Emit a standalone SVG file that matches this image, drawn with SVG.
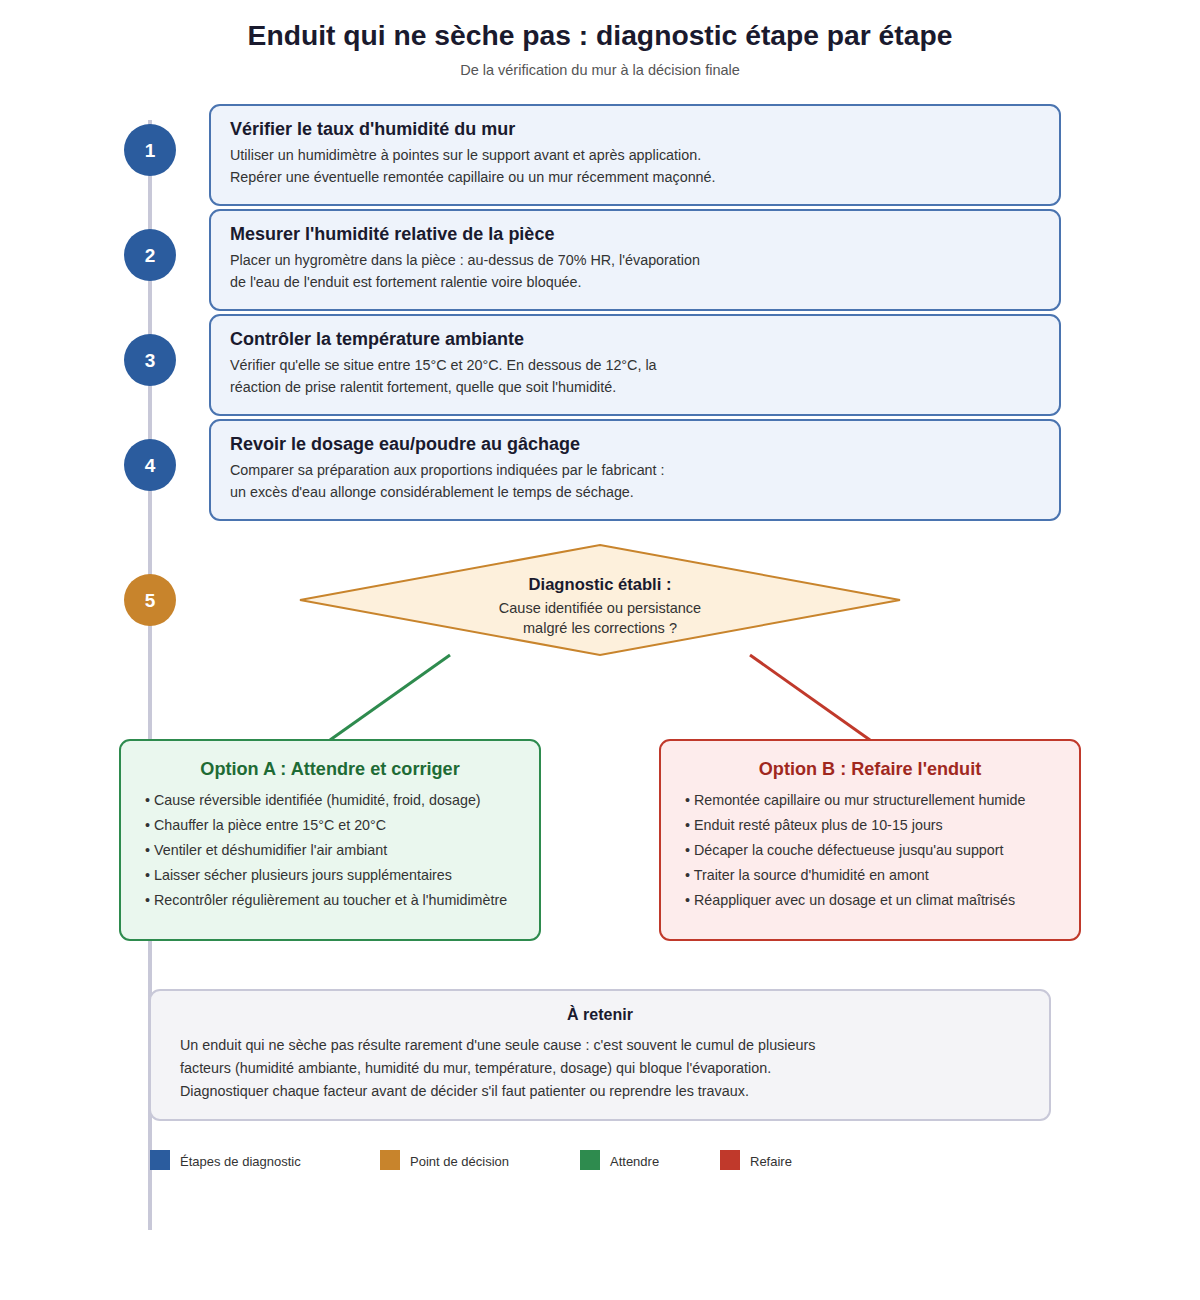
<svg xmlns="http://www.w3.org/2000/svg" width="1200" height="1300" viewBox="0 0 1200 1300">
<style>
text{font-family:"Liberation Sans",Arial,sans-serif;}
.title{font-size:28.25px;font-weight:bold;fill:#1a1a2e;text-anchor:middle;}
.sub{font-size:14.5px;fill:#555;text-anchor:middle;}
.step{fill:#eef3fb;stroke:#4a74b0;stroke-width:2;}
.circ{fill:#2b5c9e;}
.num{font-size:19px;font-weight:bold;fill:#fff;text-anchor:middle;}
.st{font-size:18px;font-weight:bold;fill:#1a1a2e;}
.sd{font-size:14.35px;fill:#333;}
.bl{font-size:14.3px;fill:#333;}
.leg{font-size:13px;fill:#333;}
</style>
<rect width="1200" height="1300" fill="#fff"/>
<text class="title" x="600" y="45">Enduit qui ne sèche pas : diagnostic étape par étape</text>
<text class="sub" x="600" y="75">De la vérification du mur à la décision finale</text>
<line x1="150" y1="120" x2="150" y2="1230" stroke="#c8c8d8" stroke-width="4"/>
<g id="step1">
<rect class="step" x="210" y="105" width="850" height="100" rx="10"/>
<circle class="circ" cx="150" cy="150" r="26"/>
<text class="num" x="150" y="157">1</text>
<text class="st" x="230" y="135">Vérifier le taux d'humidité du mur</text>
<text class="sd" x="230" y="160">Utiliser un humidimètre à pointes sur le support avant et après application.</text>
<text class="sd" x="230" y="182">Repérer une éventuelle remontée capillaire ou un mur récemment maçonné.</text>
</g>
<g id="step2">
<rect class="step" x="210" y="210" width="850" height="100" rx="10"/>
<circle class="circ" cx="150" cy="255" r="26"/>
<text class="num" x="150" y="262">2</text>
<text class="st" x="230" y="240">Mesurer l'humidité relative de la pièce</text>
<text class="sd" x="230" y="265">Placer un hygromètre dans la pièce : au-dessus de 70% HR, l'évaporation</text>
<text class="sd" x="230" y="287">de l'eau de l'enduit est fortement ralentie voire bloquée.</text>
</g>
<g id="step3">
<rect class="step" x="210" y="315" width="850" height="100" rx="10"/>
<circle class="circ" cx="150" cy="360" r="26"/>
<text class="num" x="150" y="367">3</text>
<text class="st" x="230" y="345">Contrôler la température ambiante</text>
<text class="sd" x="230" y="370">Vérifier qu'elle se situe entre 15°C et 20°C. En dessous de 12°C, la</text>
<text class="sd" x="230" y="392">réaction de prise ralentit fortement, quelle que soit l'humidité.</text>
</g>
<g id="step4">
<rect class="step" x="210" y="420" width="850" height="100" rx="10"/>
<circle class="circ" cx="150" cy="465" r="26"/>
<text class="num" x="150" y="472">4</text>
<text class="st" x="230" y="450">Revoir le dosage eau/poudre au gâchage</text>
<text class="sd" x="230" y="475">Comparer sa préparation aux proportions indiquées par le fabricant :</text>
<text class="sd" x="230" y="497">un excès d'eau allonge considérablement le temps de séchage.</text>
</g>
<g id="decision">
<polygon points="600,545 900,600 600,655 300,600" fill="#fdf0dc" stroke="#c8842c" stroke-width="2"/>
<circle cx="150" cy="600" r="26" fill="#c8842c"/>
<text class="num" x="150" y="607">5</text>
<text x="600" y="590" font-size="16.6" font-weight="bold" fill="#1a1a2e" text-anchor="middle">Diagnostic établi :</text>
<text x="600" y="613" font-size="14.5" fill="#333" text-anchor="middle">Cause identifiée ou persistance</text>
<text x="600" y="633" font-size="14.5" fill="#333" text-anchor="middle">malgré les corrections ?</text>
</g>
<g id="connectors">
<line x1="450" y1="655" x2="330" y2="740" stroke="#2e8b4e" stroke-width="3"/>
<line x1="750" y1="655" x2="870" y2="740" stroke="#c0392b" stroke-width="3"/>
</g>
<g id="optionA">
<rect x="120" y="740" width="420" height="200" rx="10" fill="#eaf7ee" stroke="#2e8b4e" stroke-width="2"/>
<text x="330" y="775" font-size="18.1" font-weight="bold" fill="#1e6b35" text-anchor="middle">Option A : Attendre et corriger</text>
<text class="bl" x="145" y="805">• Cause réversible identifiée (humidité, froid, dosage)</text>
<text class="bl" x="145" y="830">• Chauffer la pièce entre 15°C et 20°C</text>
<text class="bl" x="145" y="855">• Ventiler et déshumidifier l'air ambiant</text>
<text class="bl" x="145" y="880">• Laisser sécher plusieurs jours supplémentaires</text>
<text class="bl" x="145" y="905">• Recontrôler régulièrement au toucher et à l'humidimètre</text>
</g>
<g id="optionB">
<rect x="660" y="740" width="420" height="200" rx="10" fill="#fdecec" stroke="#c0392b" stroke-width="2"/>
<text x="870" y="775" font-size="18.1" font-weight="bold" fill="#a0281e" text-anchor="middle">Option B : Refaire l'enduit</text>
<text class="bl" x="685" y="805">• Remontée capillaire ou mur structurellement humide</text>
<text class="bl" x="685" y="830">• Enduit resté pâteux plus de 10-15 jours</text>
<text class="bl" x="685" y="855">• Décaper la couche défectueuse jusqu'au support</text>
<text class="bl" x="685" y="880">• Traiter la source d'humidité en amont</text>
<text class="bl" x="685" y="905">• Réappliquer avec un dosage et un climat maîtrisés</text>
</g>
<g id="retenir">
<rect x="150" y="990" width="900" height="130" rx="10" fill="#f4f4f7" stroke="#c8c8d8" stroke-width="2"/>
<text x="600" y="1020" font-size="16" font-weight="bold" fill="#1a1a2e" text-anchor="middle">À retenir</text>
<text class="sd" x="180" y="1050">Un enduit qui ne sèche pas résulte rarement d'une seule cause : c'est souvent le cumul de plusieurs</text>
<text class="sd" x="180" y="1073">facteurs (humidité ambiante, humidité du mur, température, dosage) qui bloque l'évaporation.</text>
<text class="sd" x="180" y="1096">Diagnostiquer chaque facteur avant de décider s'il faut patienter ou reprendre les travaux.</text>
</g>
<g id="legend">
<rect x="150" y="1150" width="20" height="20" fill="#2b5c9e"/>
<text class="leg" x="180" y="1166">Étapes de diagnostic</text>
<rect x="380" y="1150" width="20" height="20" fill="#c8842c"/>
<text class="leg" x="410" y="1166">Point de décision</text>
<rect x="580" y="1150" width="20" height="20" fill="#2e8b4e"/>
<text class="leg" x="610" y="1166">Attendre</text>
<rect x="720" y="1150" width="20" height="20" fill="#c0392b"/>
<text class="leg" x="750" y="1166">Refaire</text>
</g>
</svg>
